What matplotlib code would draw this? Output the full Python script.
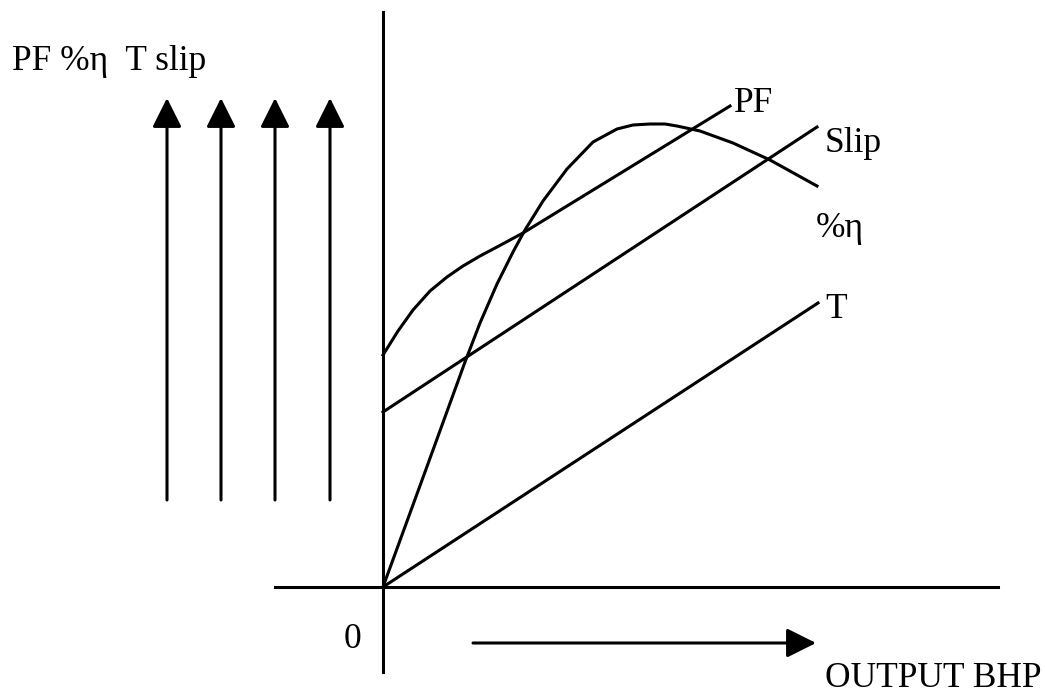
import matplotlib.pyplot as plt

# schematic: induction motor performance vs output BHP (units ~ pixels from origin)
t_x = [0, 435]
t_y = [0, 284]

slip_x = [0, 434]
slip_y = [175, 460]

pf_x = [0, 15, 30, 47, 64, 80, 97, 114, 140, 347]
pf_y = [232, 256, 277, 296, 310, 321, 331, 340, 354, 481]

eta_x = [0, 42, 82, 97, 114, 130, 142, 160, 184, 210, 234, 250, 267, 282, 294, 317, 350, 387, 434]
eta_y = [0, 115, 225, 264, 303, 335, 357, 386, 418, 445, 458, 462, 463, 463, 461, 456, 444, 427, 401]

up_arrow_x = [-216, -162, -108, -53]

plt.rcParams['font.family'] = ['Liberation Serif', 'DejaVu Serif']

fig = plt.figure(figsize=(10.45, 6.94), dpi=100)
ax = fig.add_axes([0, 0, 1, 1])
ax.set_xlim(-383, 662)
ax.set_ylim(-107, 587)
ax.axis('off')

lw = 2.2
# axes
ax.plot([0, 0], [-85, 575], color='black', lw=lw)
ax.plot([-108, 615], [0, 0], color='black', lw=lw)

for xs, ys in [(t_x, t_y), (slip_x, slip_y), (pf_x, pf_y), (eta_x, eta_y)]:
    ax.plot(xs, ys, color='black', lw=lw, solid_joinstyle='round')

arrow = dict(arrowstyle='-|>,head_length=0.9,head_width=0.45', mutation_scale=20,
             color='black', lw=lw, shrinkA=0, shrinkB=0)
for x in up_arrow_x:
    ax.annotate('', xy=(x, 489), xytext=(x, 87), arrowprops=arrow)
ax.annotate('', xy=(433, -56), xytext=(90, -56), arrowprops=arrow)

fs = 25.5
ax.text(-371, 517, 'PF %η  T slip', fontsize=fs, va='baseline', ha='left')
ax.text(351, 475, 'PF', fontsize=fs, va='baseline', ha='left')
ax.text(442, 435, 'Slip', fontsize=fs, va='baseline', ha='left')
ax.text(433, 350, '%η', fontsize=fs, va='baseline', ha='left')
ax.text(442, 269, 'T', fontsize=fs, va='baseline', ha='left')
ax.text(-39, -61, '0', fontsize=fs, va='baseline', ha='left')
ax.text(442, -100, 'OUTPUT BHP', fontsize=fs, va='baseline', ha='left')

fig.savefig('out.png', dpi=100)
